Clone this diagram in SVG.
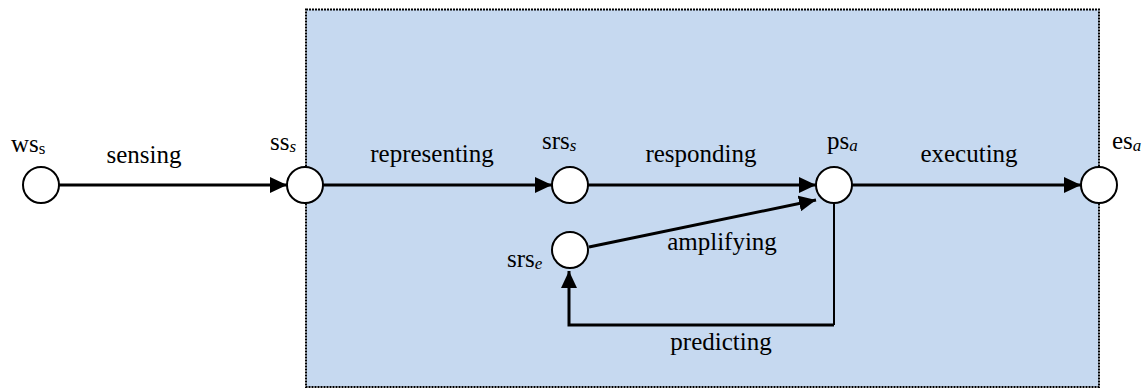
<svg xmlns="http://www.w3.org/2000/svg" width="1148" height="390" viewBox="0 0 1148 390">
<defs>
<style>
.t{font-family:"Liberation Serif","Times New Roman",serif;font-size:25px;fill:#000}
.sub{font-size:17px}
.i{font-style:italic}
.n{fill:#fff;stroke:#000;stroke-width:2}
.e{stroke:#000;stroke-width:3;fill:none}
</style>
<marker id="ah" markerWidth="17" markerHeight="16" refX="17" refY="8" orient="auto" markerUnits="userSpaceOnUse">
<path d="M0,0 L17,8 L0,16 Z" fill="#000"/>
</marker>
</defs>
<rect id="region" x="306" y="9.5" width="793" height="377.5" fill="#C6D9F0" stroke="#000" stroke-width="2" stroke-dasharray="2,1"/>
<g id="connectors">
<line class="e" x1="59" y1="185" x2="287" y2="185" marker-end="url(#ah)"/>
<line class="e" x1="323" y1="185" x2="552" y2="185" marker-end="url(#ah)"/>
<line class="e" x1="588" y1="185" x2="816" y2="185" marker-end="url(#ah)"/>
<line class="e" x1="852" y1="185" x2="1081" y2="185" marker-end="url(#ah)"/>
<line class="e" x1="589" y1="247" x2="816" y2="200" marker-end="url(#ah)"/>
<line x1="834" y1="203" x2="834" y2="325" stroke="#000" stroke-width="2"/>
<polyline class="e" points="834,325 569,325 569,271" marker-end="url(#ah)"/>
<text class="t" x="144" y="163" text-anchor="middle">sensing</text>
<text class="t" x="432" y="162" text-anchor="middle">representing</text>
<text class="t" x="701" y="162" text-anchor="middle">responding</text>
<text class="t" x="969" y="162" text-anchor="middle">executing</text>
<text class="t" x="722" y="250" text-anchor="middle">amplifying</text>
<text class="t" x="721" y="350" text-anchor="middle">predicting</text>
</g>
<g id="ws_s"><circle class="n" cx="41" cy="185" r="18"/><text class="t" x="11" y="152">ws<tspan class="sub" dy="2">s</tspan></text></g>
<g id="ss_s"><circle class="n" cx="305" cy="185" r="18"/><text class="t" x="270" y="150">ss<tspan class="sub i" dy="2">s</tspan></text></g>
<g id="srs_s"><circle class="n" cx="570" cy="185" r="18"/><text class="t" x="542" y="149">srs<tspan class="sub i" dy="2">s</tspan></text></g>
<g id="ps_a"><circle class="n" cx="834" cy="185" r="18"/><text class="t" x="827" y="149">ps<tspan class="sub i" dy="2">a</tspan></text></g>
<g id="es_a"><circle class="n" cx="1099" cy="185" r="18"/><text class="t" x="1112" y="149">es<tspan class="sub i" dy="2">a</tspan></text></g>
<g id="srs_e"><circle class="n" cx="570" cy="250" r="18"/><text class="t" x="507" y="267">srs<tspan class="sub i" dy="2">e</tspan></text></g>
</svg>
